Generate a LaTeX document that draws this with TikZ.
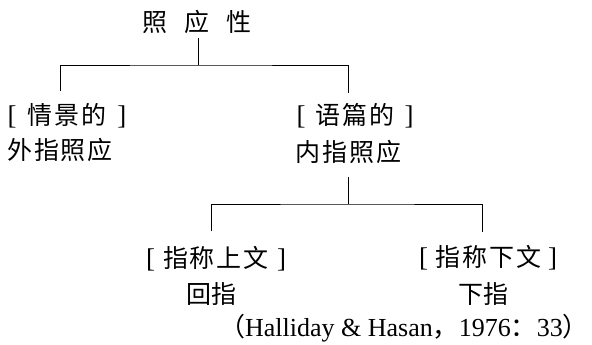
\documentclass[tikz,border=0pt]{standalone}
\usepackage{fontspec}
\setmainfont{Liberation Serif}
\newfontfamily\cjk{Noto Sans CJK SC}
\newcommand\lbk{{\normalfont\fontsize{27}{28}\selectfont[}}
\newcommand\rbk{{\normalfont\fontsize{27}{28}\selectfont]}}
\newcommand\cg{\hspace{2pt}}
\tikzset{
  lbl/.style={inner sep=0pt, font=\cjk\fontsize{25}{28}\selectfont, anchor=center},
  citestyle/.style={inner sep=0pt, font=\fontsize{26}{28}\selectfont, anchor=center},
  conn/.style={line width=0.8pt},
}
\begin{document}
\begin{tikzpicture}[x=1pt,y=-1pt]
\useasboundingbox (0,0) rectangle (592,345);
% nodes
\node[lbl] (root) at (197,22) {照\hspace{17pt}应\hspace{17pt}性};
\node[lbl] (sit) at (67,116) {\lbk\hspace{11pt}情\cg 景\cg 的\hspace{11pt}\rbk};
\node[lbl] (exo) at (60,150) {外\cg 指\cg 照\cg 应};
\node[lbl] (txt) at (355,116) {\lbk\hspace{10pt}语\cg 篇\cg 的\hspace{10pt}\rbk};
\node[lbl] (endo) at (348,152) {内\cg 指\cg 照\cg 应};
\node[lbl] (anabr) at (216,259) {\lbk\hspace{8pt}指\cg 称\cg 上\cg 文\hspace{8pt}\rbk};
\node[lbl] (ana) at (211,294) {回指};
\node[lbl] (catbr) at (488,258) {\lbk\hspace{7pt}指\cg 称\cg 下\cg 文\hspace{7pt}\rbk};
\node[lbl] (cata) at (483,294) {下指};
\node[citestyle] (cite) at (404,328) {{\cjk（}Halliday \& Hasan{\cjk，}1976{\cjk：}33{\cjk）}};
% connector points
\coordinate (r0) at (198,38);
\coordinate (j1) at (198,65);
\coordinate (sitTop) at (60,91);
\coordinate (txtTop) at (348,93);
\coordinate (e0) at (348,177);
\coordinate (j2) at (348,204);
\coordinate (anaTop) at (211,231);
\coordinate (catTop) at (482,232);
% connectors
\draw[conn] (r0) -- (j1);
\draw[conn] (sitTop) |- (j1) -| (txtTop);
\draw[conn] (e0) -- (j2);
\draw[conn] (anaTop) |- (j2) -| (catTop);
\end{tikzpicture}
\end{document}
